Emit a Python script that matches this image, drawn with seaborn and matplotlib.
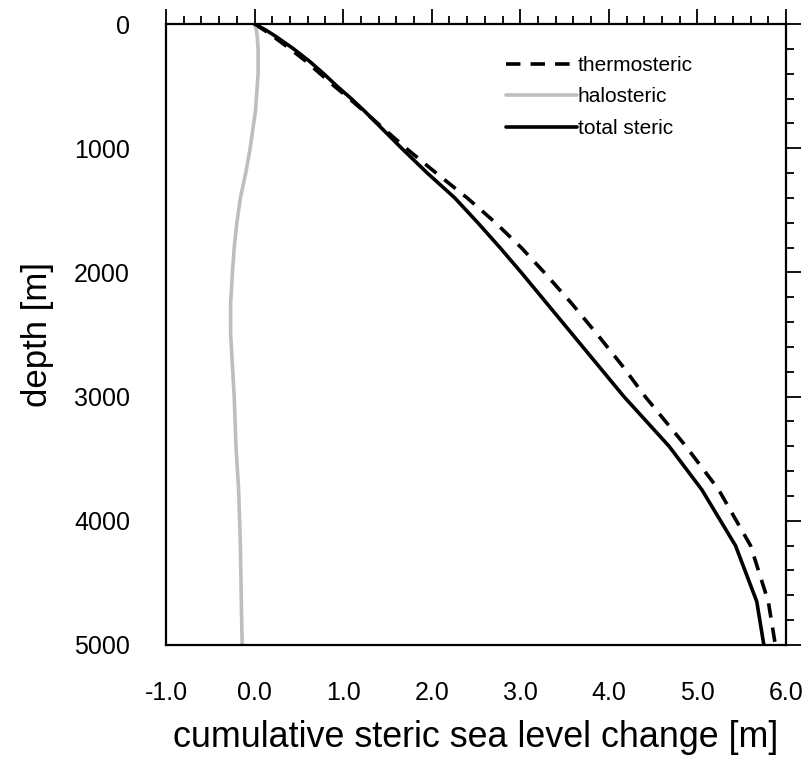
import matplotlib
matplotlib.use("Agg")
import matplotlib.pyplot as plt
from matplotlib.ticker import MultipleLocator, FormatStrFormatter
import seaborn as sns
import pandas as pd

# Depth levels [m]
depth = [0, 50, 100, 200, 300, 400, 500, 600, 700, 800, 900, 1000, 1200, 1400,
         1600, 1800, 2000, 2250, 2500, 2750, 3000, 3400, 3750, 4200, 4650, 5000]

# Cumulative steric sea level change [m], integrated from the surface downward
thermosteric = [0.0, 0.11, 0.21, 0.40, 0.58, 0.74, 0.90, 1.07, 1.23, 1.39, 1.55, 1.71, 2.05,
                2.40, 2.72, 3.01, 3.27, 3.58, 3.87, 4.15, 4.41, 4.87, 5.24, 5.60, 5.80, 5.88]
halosteric = [0.0, 0.02, 0.03, 0.04, 0.04, 0.04, 0.03, 0.02, 0.01, -0.01, -0.03, -0.05, -0.10,
              -0.16, -0.20, -0.23, -0.25, -0.27, -0.27, -0.25, -0.23, -0.21, -0.18, -0.16,
              -0.15, -0.14]
total_steric = [0.0, 0.13, 0.24, 0.44, 0.62, 0.78, 0.93, 1.09, 1.24, 1.38, 1.52, 1.66, 1.95,
                2.26, 2.52, 2.77, 3.01, 3.30, 3.59, 3.88, 4.17, 4.68, 5.05, 5.43, 5.67, 5.75]

sns.set_style("white")
plt.rcParams["font.family"] = ["Liberation Sans", "DejaVu Sans"]
plt.rcParams["axes.unicode_minus"] = False
for key in ("text.color", "axes.labelcolor", "xtick.color", "ytick.color"):
    plt.rcParams[key] = "black"

df = pd.DataFrame({"depth": depth, "thermosteric": thermosteric,
                   "halosteric": halosteric, "total steric": total_steric})

fig = plt.figure(figsize=(8.08, 7.58), dpi=100)
ax = fig.add_axes([166 / 808, 1 - 645 / 758, 620 / 808, 621 / 758])

lw = 2.6
sns.lineplot(data=df, x="thermosteric", y="depth", sort=False, estimator=None,
             color="black", lw=lw, ax=ax, label="thermosteric")
ax.lines[-1].set_dashes((4, 2.8))
sns.lineplot(data=df, x="halosteric", y="depth", sort=False, estimator=None,
             color="#bebebe", lw=lw, ax=ax, label="halosteric")
sns.lineplot(data=df, x="total steric", y="depth", sort=False, estimator=None,
             color="black", lw=lw, ax=ax, label="total steric")

ax.set_xlim(-1.0, 6.0)
ax.set_ylim(5000, 0)
ax.xaxis.set_major_locator(MultipleLocator(1.0))
ax.xaxis.set_minor_locator(MultipleLocator(0.2))
ax.xaxis.set_major_formatter(FormatStrFormatter("%.1f"))
ax.yaxis.set_major_locator(MultipleLocator(1000))
ax.yaxis.set_minor_locator(MultipleLocator(200))

for s in ax.spines.values():
    s.set_linewidth(1.6)
    s.set_color("black")

ax.tick_params(which="both", direction="out", top=True, right=True,
               labeltop=False, labelright=False, color="black", width=1.3)
ax.tick_params(which="major", length=10.5, labelsize=18, pad=15.5)
ax.tick_params(which="minor", length=5.8)

ax.set_xlabel("cumulative steric sea level change [m]", fontsize=25.8, labelpad=11)
ax.set_ylabel("depth [m]", fontsize=25, labelpad=14)

ax.legend(loc="upper left", bbox_to_anchor=((506 - 166) / 620, 1 - (56 - 24) / 621),
          frameon=False, fontsize=15, handlelength=3.4, handletextpad=0.05,
          labelspacing=0.6, borderpad=0, borderaxespad=0)

fig.savefig("out.png", dpi=100)
